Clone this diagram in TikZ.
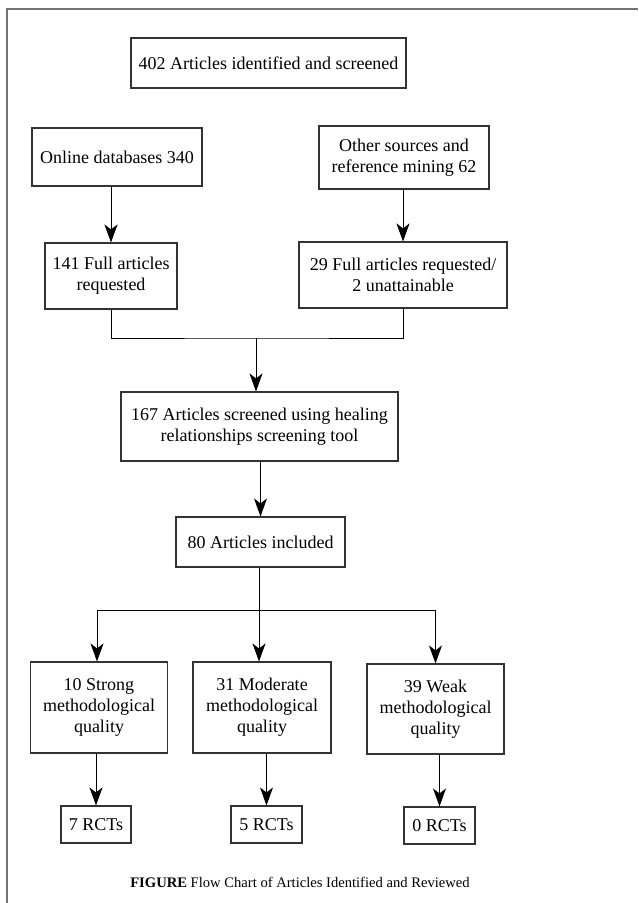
\documentclass[tikz,border=0pt]{standalone}
\usepackage{fontspec}
\setmainfont{Liberation Serif}
\usetikzlibrary{arrows.meta}

\begin{document}
\begin{tikzpicture}
            [x=1pt,y=-1pt,
             box/.style={draw=black!80,line width=1.1pt,inner sep=0pt,align=center,
               font=\fontsize{18}{21}\selectfont},
             link/.style={line width=0.9pt},
             arrow/.style={link,-{Stealth[length=18pt,width=13pt,inset=5pt]}},
             frame/.style={draw=black!55,line width=2pt}]

            \useasboundingbox (0,0) rectangle (638,903);
            \draw[frame] (7,903) -- (7,9) -- (638,9);

            \node[box,minimum width=275,minimum height=50] (found) at (268.5,63) {402 Articles identified and screened};
            \node[box,minimum width=170,minimum height=58] (online) at (117,157) {Online databases 340};
            \node[box,minimum width=170,minimum height=63] (other) at (404,157.5) {Other sources and\\reference mining 62};
            \node[box,minimum width=132,minimum height=66] (fullA) at (111,276) {141 Full articles\\requested};
            \node[box,minimum width=208,minimum height=66] (fullB) at (403,275) {29 Full articles requested/\\2 unattainable};
            \node[box,minimum width=277,minimum height=69] (screen) at (259.5,426.5) {167 Articles screened using healing\\relationships screening tool};
            \node[box,minimum width=169,minimum height=50] (incl) at (260.5,542) {80 Articles included};

            \node[box,minimum width=137,minimum height=91] (strong) at (99,707.5) {10 Strong\\methodological\\quality};
            \node[box,minimum width=138,minimum height=91] (moderate) at (262,707.5) {31 Moderate\\methodological\\quality};
            \node[box,minimum width=137,minimum height=90] (weak) at (435.5,709) {39 Weak\\methodological\\quality};

            \node[box,minimum width=70,minimum height=37] (rctA) at (96,824.5) {7 RCTs};
            \node[box,minimum width=71,minimum height=37] (rctB) at (266.5,824.5) {5 RCTs};
            \node[box,minimum width=71,minimum height=37] (rctC) at (439.5,825.5) {0 RCTs};

            \node[font=\fontsize{14.6}{17}\selectfont] (caption) at (300,882) {\textbf{FIGURE} Flow Chart of Articles Identified and Reviewed};

            \coordinate (join) at (256,338);
            \coordinate (split) at (259,610);

            \draw[arrow] (online.south -| fullA.north) -- (fullA.north);
            \draw[arrow] (other.south -| fullB.north) -- (fullB.north);
            \draw[link] (fullA.south) |- (join) -| (fullB.south);
            \draw[arrow] (join) -- (join |- screen.north);
            \draw[arrow] (screen.south -| incl.north) -- (incl.north);

            \draw[link] (incl.south -| split) -- (split);
            \draw[link] (split -| 97,0) -- (split -| weak.north);
            \draw[arrow] (split -| 97,0) -- (97,0 |- strong.north);
            \draw[arrow] (split) -- (split |- moderate.north);
            \draw[arrow] (split -| weak.north) -- (weak.north);

            \foreach \a/\b in {strong/rctA,moderate/rctB,weak/rctC} {
                \draw[arrow] (\a.south -| \b.north) -- (\b.north);
            }
        \end{tikzpicture}
\end{document}
